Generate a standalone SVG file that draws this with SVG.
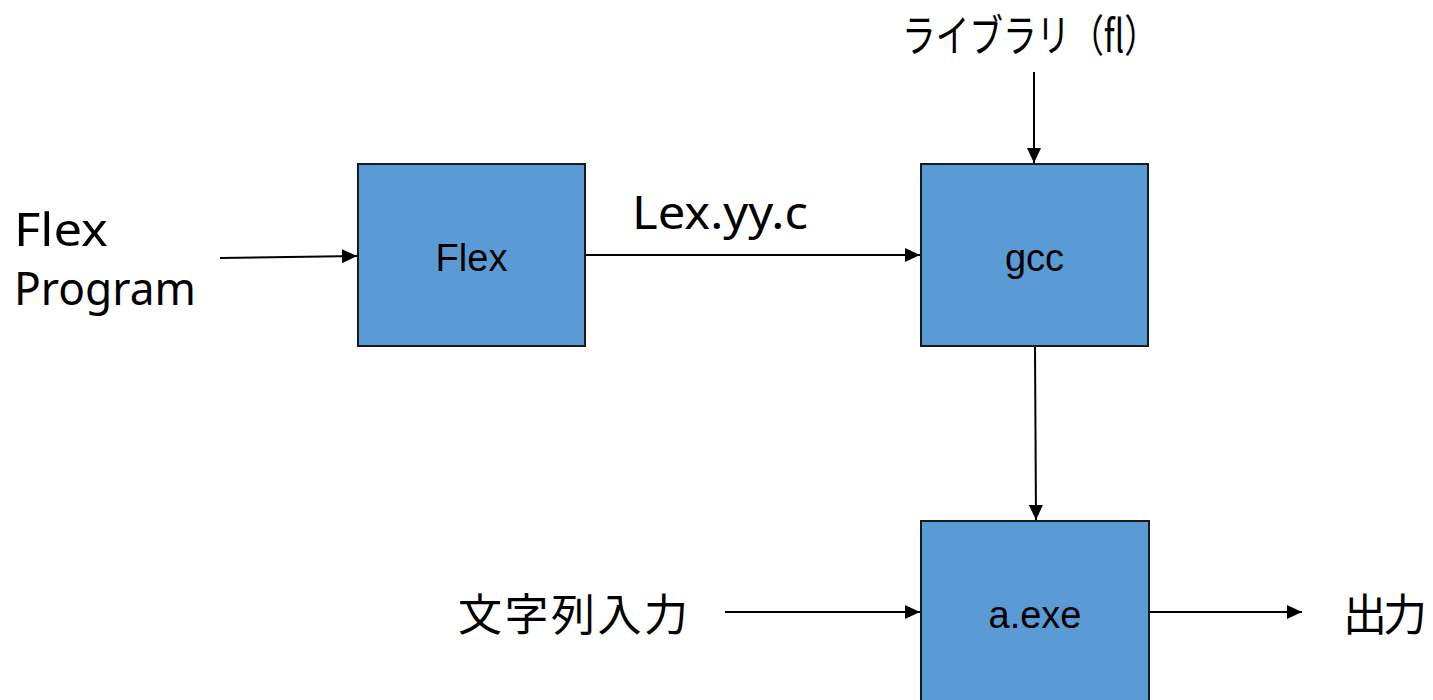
<svg xmlns="http://www.w3.org/2000/svg" width="1433" height="700" viewBox="0 0 1433 700">
  <style>
    .box { fill: #5b9bd5; stroke: #1a1a1a; stroke-width: 2; }
    .in { font-family: "Liberation Sans", "Noto Sans", sans-serif; font-size: 38px; fill: #000; text-anchor: middle; }
    .lbl { font-family: "Noto Sans", "Liberation Sans", sans-serif; font-size: 46px; fill: #000; }
    .jp { font-family: "Noto Sans CJK JP", "Noto Sans", sans-serif; font-size: 44px; fill: #000; }
    .wire { stroke: #000; stroke-width: 2; fill: none; marker-end: url(#head); }
  </style>
  <defs>
    <marker id="head" markerUnits="userSpaceOnUse" markerWidth="16" markerHeight="14" refX="15" refY="7" orient="auto">
      <path d="M0,0 L15,7 L0,14 Z" fill="#000"/>
    </marker>
  </defs>
  <rect width="1433" height="700" fill="#fff"/>

  <g id="connectors">
    <line class="wire" x1="220" y1="258" x2="357" y2="256"/>
    <line class="wire" x1="586" y1="255" x2="920" y2="255"/>
    <line class="wire" x1="1034" y1="72" x2="1034" y2="163"/>
    <line class="wire" x1="1035" y1="347" x2="1036" y2="520"/>
    <line class="wire" x1="725" y1="612" x2="920" y2="612"/>
    <line class="wire" x1="1150" y1="612" x2="1302" y2="612"/>
  </g>

  <g id="node-flex">
    <rect class="box" x="358" y="164" width="227" height="182"/>
    <text class="in" x="471.5" y="271">Flex</text>
  </g>
  <g id="node-gcc">
    <rect class="box" x="921" y="164" width="227" height="182"/>
    <text class="in" x="1034.5" y="271">gcc</text>
  </g>
  <g id="node-aexe">
    <rect class="box" x="921" y="521" width="228" height="190"/>
    <text class="in" x="1035" y="628">a.exe</text>
  </g>

  <g id="label-flex-program">
    <text class="lbl" x="14" y="246" textLength="94" lengthAdjust="spacingAndGlyphs">Flex</text>
    <text class="lbl" x="14" y="305" textLength="182" lengthAdjust="spacingAndGlyphs">Program</text>
  </g>
  <g id="label-lexyyc">
    <text class="lbl" x="632" y="229" textLength="176" lengthAdjust="spacingAndGlyphs">Lex.yy.c</text>
  </g>
  <g id="label-library">
    <text class="jp" x="902" y="52" textLength="256" lengthAdjust="spacingAndGlyphs">ライブラリ（fl）</text>
  </g>
  <g id="label-input">
    <text class="jp" x="458" y="631" textLength="230" lengthAdjust="spacing">文字列入力</text>
  </g>
  <g id="label-output">
    <text class="jp" x="1343" y="631" textLength="84" lengthAdjust="spacing">出力</text>
  </g>
</svg>
